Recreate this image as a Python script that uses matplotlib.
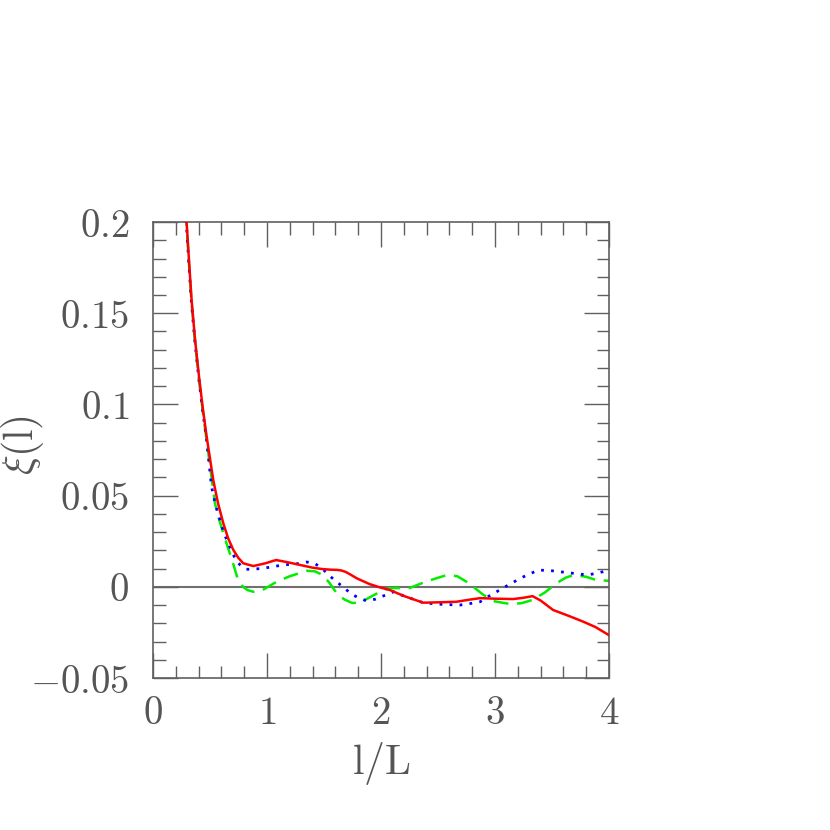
import matplotlib
matplotlib.use("Agg")
import matplotlib.pyplot as plt
from matplotlib.ticker import MultipleLocator

plt.rcParams['mathtext.fontset'] = 'cm'
plt.rcParams['font.family'] = 'serif'
plt.rcParams['font.serif'] = ['DejaVu Serif']

# red solid curve
red_x = [0.25, 0.295, 0.317, 0.339, 0.37, 0.404, 0.437, 0.471, 0.529, 0.57, 0.617, 0.66, 0.705,
         0.75, 0.792, 0.88, 0.98, 1.08, 1.18, 1.29, 1.40, 1.49, 1.56, 1.61, 1.65, 1.69, 1.73, 1.79,
         1.90, 1.99, 2.08, 2.20, 2.37, 2.50, 2.66, 2.78, 2.87, 3.00, 3.16, 3.25, 3.33, 3.40, 3.51,
         3.65, 3.77, 3.88, 4.0]
red_y = [0.245, 0.200, 0.178, 0.157, 0.135, 0.1152, 0.098, 0.0823, 0.0585, 0.046, 0.0348, 0.0265,
         0.0202, 0.0158, 0.0129, 0.0114, 0.0128, 0.0147, 0.0135, 0.012, 0.0105, 0.0097, 0.0094,
         0.0093, 0.0090, 0.0082, 0.0068, 0.0046, 0.0015, -0.0003, -0.0018, -0.005, -0.0087,
         -0.0085, -0.0082, -0.0070, -0.0062, -0.0065, -0.0067, -0.006, -0.0051, -0.0075, -0.0127,
         -0.016, -0.019, -0.022, -0.0265]

# blue dotted curve
blue_x = [0.25, 0.292, 0.314, 0.336, 0.367, 0.40, 0.433, 0.467, 0.514, 0.55, 0.588, 0.62, 0.66,
          0.70, 0.734, 0.78, 0.82, 0.87, 0.95, 1.05, 1.14, 1.25, 1.35, 1.42, 1.49, 1.55, 1.61,
          1.67, 1.73, 1.80, 1.87, 1.95, 2.06, 2.11, 2.20, 2.37, 2.50, 2.69, 2.80, 2.87, 2.95,
          3.07, 3.16, 3.25, 3.38, 3.50, 3.66, 3.81, 3.90, 4.0]
blue_y = [0.245, 0.200, 0.178, 0.157, 0.135, 0.1152, 0.098, 0.0823, 0.0549, 0.0445, 0.0366, 0.030,
          0.0238, 0.0183, 0.0138, 0.0112, 0.0096, 0.0097, 0.0100, 0.011, 0.012, 0.0125, 0.0136,
          0.0128, 0.0097, 0.006, 0.0028, -0.0002, -0.0034, -0.006, -0.0076, -0.0068, -0.004,
          -0.0027, -0.005, -0.0087, -0.0095, -0.0100, -0.009, -0.0082, -0.005, -0.0007, 0.0025,
          0.0055, 0.0092, 0.0088, 0.0076, 0.0065, 0.0075, 0.0092]

# green dashed curve
green_x = [0.25, 0.293, 0.315, 0.337, 0.368, 0.402, 0.435, 0.469, 0.505, 0.544, 0.58, 0.617, 0.66,
           0.70, 0.74, 0.79, 0.83, 0.88, 0.95, 1.085, 1.20, 1.35, 1.42, 1.49, 1.55, 1.61, 1.68,
           1.75, 1.82, 1.90, 2.02, 2.08, 2.25, 2.40, 2.58, 2.67, 2.75, 2.83, 2.90, 3.00, 3.13,
           3.23, 3.33, 3.44, 3.54, 3.62, 3.69, 3.80, 3.89, 4.0]
green_y = [0.245, 0.200, 0.178, 0.157, 0.135, 0.1145, 0.097, 0.081, 0.064, 0.0458, 0.037, 0.0293,
           0.021, 0.0135, 0.005, 0.0, -0.0018, -0.0027, -0.0022, 0.0028, 0.0058, 0.0088, 0.0085,
           0.0065, 0.0020, -0.0034, -0.0070, -0.0089, -0.0085, -0.0058, -0.0018, -0.0007,
           -0.0007, 0.0030, 0.0065, 0.0058, 0.0028, -0.0010, -0.0045, -0.0080, -0.0094, -0.0090,
           -0.0072, -0.0030, 0.002, 0.0050, 0.0065, 0.0055, 0.0037, 0.0033]

xticks = [0, 1, 2, 3, 4]
yticks = [-0.05, 0, 0.05, 0.1, 0.15, 0.2]
ytick_labels = ['$-0.05$', '$0$', '$0.05$', '$0.1$', '$0.15$', '$0.2$']

grey = '#606060'
txtgrey = '#555555'

fig = plt.figure(figsize=(8.3, 8.3), dpi=100)
ax = fig.add_axes([0.1843, 0.1831, 0.5494, 0.5494])

ax.axhline(0, color='#707070', lw=1.5, zorder=1)
ax.plot(green_x, green_y, color='#00ee00', lw=1.8, dashes=(6, 3.5), zorder=2)
ax.plot(blue_x, blue_y, color='#0000ff', lw=2, dashes=(1, 2.6), zorder=3)
ax.plot(red_x, red_y, color='#ff0000', lw=1.8, zorder=4)

ax.set_xlim(0, 4)
ax.set_ylim(-0.05, 0.2)
ax.set_xticks(xticks)
ax.set_xticklabels(['$%d$' % t for t in xticks])
ax.set_yticks(yticks)
ax.set_yticklabels(ytick_labels)
ax.xaxis.set_minor_locator(MultipleLocator(0.2))
ax.yaxis.set_minor_locator(MultipleLocator(0.01))

ax.tick_params(which='both', direction='in', top=True, right=True, color=grey, width=1)
ax.tick_params(which='major', length=18, labelsize=28, labelcolor=txtgrey)
ax.tick_params(which='minor', length=9)
ax.tick_params(axis='x', which='major', pad=12)
ax.tick_params(axis='y', which='major', pad=17)
for s in ax.spines.values():
    s.set_color(grey)
    s.set_linewidth(1.2)

ax.set_xlabel(r'$\mathrm{l/L}$', fontsize=30, color=txtgrey, labelpad=6)
ax.set_ylabel(r'$\xi(\mathrm{l})$', fontsize=30, color=txtgrey)
ax.yaxis.set_label_coords(-0.235, 0.51)

fig.savefig('out.png', dpi=100)
